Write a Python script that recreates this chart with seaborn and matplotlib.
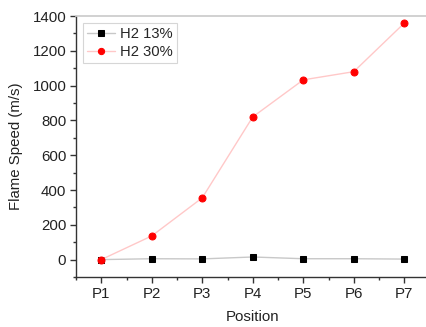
import matplotlib
matplotlib.use("Agg")
import matplotlib.pyplot as plt
import seaborn as sns
import pandas as pd
from matplotlib.ticker import MultipleLocator

positions = ["P1", "P2", "P3", "P4", "P5", "P6", "P7"]
h2_13 = [0, 5, 4, 15, 5, 5, 3]
h2_30 = [0, 136, 355, 820, 1033, 1080, 1359]

sns.set_theme(style="white")
plt.rcParams['font.family'] = ['Liberation Sans', 'DejaVu Sans']

x = list(range(1, len(positions) + 1))
df13 = pd.DataFrame({"x": x, "y": h2_13})
df30 = pd.DataFrame({"x": x, "y": h2_30})

fig = plt.figure(figsize=(4.26, 3.27), dpi=100)
ax = fig.add_axes([76/426, 50/327, 353.5/426, 261/327])

sns.lineplot(data=df13, x="x", y="y", ax=ax, color="#c8c8c8", lw=1.0,
             marker="s", markersize=4.6, markerfacecolor="black",
             markeredgecolor="black", label="H2 13%")
sns.lineplot(data=df30, x="x", y="y", ax=ax, color="#ffc8c8", lw=1.0,
             marker="o", markersize=5.0, markerfacecolor="red",
             markeredgecolor="red", label="H2 30%")

ax.set_xlim(0.5, 7.5)
ax.set_ylim(-100, 1400)
ax.set_xticks(x)
ax.set_xticklabels(positions)
ax.xaxis.set_minor_locator(MultipleLocator(0.5))
ax.yaxis.set_major_locator(MultipleLocator(200))
ax.yaxis.set_minor_locator(MultipleLocator(100))
ax.tick_params(axis="both", which="major", direction="out", length=4, width=1,
               color="#333333", labelsize=10.8, labelcolor="#222222", pad=3,
               bottom=True, left=True)
ax.tick_params(axis="both", which="minor", direction="out", length=2, width=1,
               color="#333333", bottom=True, left=True)

for s in ["left", "bottom"]:
    ax.spines[s].set_color("#333333")
    ax.spines[s].set_linewidth(1.0)
ax.spines["top"].set_color("#cccccc")
ax.spines["right"].set_visible(False)

ax.set_xlabel("Position", fontsize=10.8, color="#222222", labelpad=7)
ax.set_ylabel("Flame Speed (m/s)", fontsize=10.8, color="#222222", labelpad=7)

leg = ax.legend(loc="upper left", bbox_to_anchor=(0.019, 0.974), borderaxespad=0,
                fontsize=10.6, frameon=True, fancybox=False, handlelength=1.9,
                borderpad=0.3, labelspacing=0.25, handletextpad=0.35,
                markerscale=0.9)
leg.get_frame().set_edgecolor("#cccccc")
leg.get_frame().set_linewidth(0.8)

fig.savefig("out.png", dpi=100)
